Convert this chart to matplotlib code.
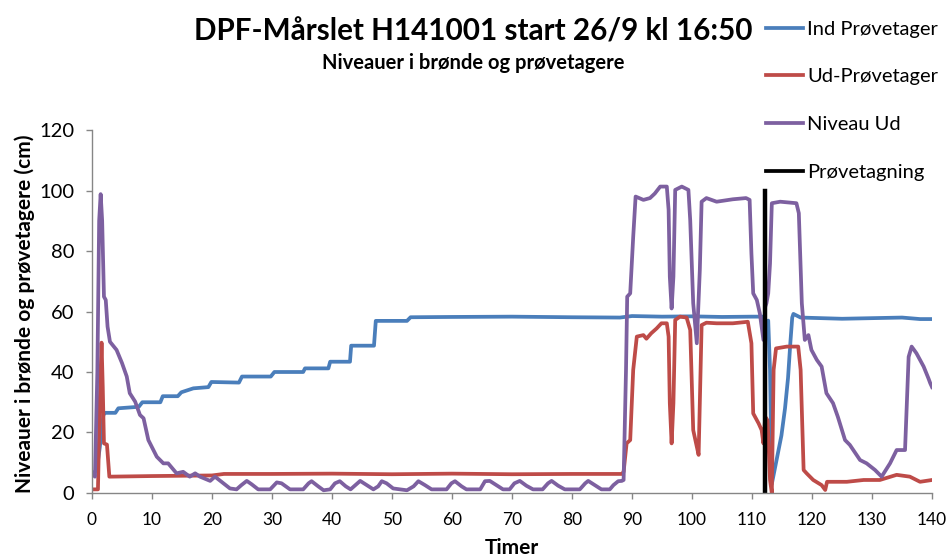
import matplotlib
matplotlib.use("Agg")
import matplotlib.pyplot as plt

plt.rcParams['font.family'] = ['Lato', 'DejaVu Sans']

# Ind Prøvetager (inlet sampler level)
ind_t = [0.2, 0.8, 1.3, 1.9, 2.2, 3.9, 4.4, 7.8, 8.4, 11.4, 11.8, 14.3, 14.9, 16.9,
         19.4, 19.9, 24.5, 25.0, 29.8, 30.4, 35.2, 35.5, 39.4, 39.7, 43.0, 43.2,
         47.0, 47.3, 52.5, 53.1, 60, 70, 80, 88, 90, 95, 100, 105, 110, 111.9,
         112.2, 112.7, 113.0, 113.3, 114.0, 114.9, 115.5, 116.0, 116.4, 116.7,
         116.9, 118.1, 125, 130, 135, 138, 140]
ind_v = [6.5, 7.7, 15, 25.8, 26.5, 26.5, 28, 28.5, 30, 30, 32, 32, 33.3, 34.6,
         35, 36.7, 36.5, 38.5, 38.5, 40, 40, 41.2, 41.2, 43.4, 43.4, 48.7,
         48.7, 56.9, 56.9, 58.1, 58.2, 58.3, 58.1, 58.0, 58.5, 58.3, 58.4, 58.2, 58.3, 58.3,
         54, 57, 40.7, 3, 10, 19, 28, 38, 50, 58,
         59.2, 58, 57.6, 57.8, 58.0, 57.5, 57.5]

# Ud-Prøvetager (outlet sampler level)
ud_t = [0.2, 1.0, 1.3, 1.6, 1.8, 2.0, 2.5, 2.9, 10, 20, 22, 30, 40, 50, 60, 70, 80,
        88.3, 88.6, 89.1, 89.7, 90.2, 90.8, 91.9, 92.4, 93.2, 94.1, 94.9, 95.8,
        96.1, 96.3, 96.6, 96.9, 97.2, 98.0, 99.1, 99.7, 100.2, 100.8, 101.1, 101.3,
        101.6, 102.4, 104.1, 106.8, 109.3, 109.9, 110.2, 111.1, 111.6, 111.9, 112.2,
        112.6, 113.0, 113.3, 113.6, 114.0, 115.8, 117.7, 118.1, 118.6, 119.1, 120.2,
        121.6, 122.2, 122.5, 125.8, 128.6, 131.3, 134.1, 136.3, 138, 140]
ud_v = [1.2, 1.2, 30, 49.7, 35, 16.4, 16, 5.4, 5.6, 5.8, 6.3, 6.3, 6.4, 6.2, 6.4, 6.2, 6.3,
        6.3, 7, 16.4, 17.5, 40.7, 51.7, 52.2, 51, 52.8, 54.4, 56.1, 56.1,
        51.7, 29.7, 16.4, 29.7, 57.2, 58.3, 58, 53.9, 20.8, 15.3, 12.6, 29.7,
        55.5, 56.3, 56.1, 56.1, 56.6, 49.5, 26.3, 23, 20.8, 16.4, 25.2,
        24, 4.3, 0, 40.7, 47.8, 48.4, 48.4, 40.7, 7.6, 6.5, 4.3,
        2.6, 1, 3.7, 3.7, 4.3, 4.3, 6, 5.4, 3.7, 4.3]

# Niveau Ud (outlet well level)
niv_t = [0.2, 0.5, 0.9, 1.2, 1.45, 1.7, 2.0, 2.3, 2.6, 3.0, 4.1, 5.0, 5.8, 6.3, 7.2,
         8.0, 8.6, 9.4, 10.8, 11.9, 12.7, 14.1, 15.2, 16.3, 17.2, 18.0, 19.7, 20.5,
         21.9, 23.0, 24.1, 24.9, 25.8, 26.6, 27.7, 29.7, 30.8, 31.6, 33.0, 35.2,
         36.1, 36.6, 37.7, 38.6, 39.7, 40.5, 41.3, 42.3, 43.1, 43.9, 44.7, 45.8,
         46.9, 47.7, 48.3, 49.1, 50.2, 52.5, 53.6, 54.4, 55.5, 56.6, 59.1, 59.9,
         60.5, 61.6, 62.4, 64.7, 65.5, 66.3, 67.4, 68.5, 69.6, 70.4, 71.3, 72.4,
         73.5, 75.1, 76.0, 76.6, 77.7, 78.8, 81.3, 82.2, 82.7, 83.8, 84.9, 86.3,
         86.9, 87.7, 88.3, 88.6, 89.0, 89.2, 89.7, 90.2, 90.6, 91.9, 93.0, 93.8,
         94.7, 95.8, 96.1, 96.3, 96.6, 96.9, 97.2, 98.3, 99.4, 99.7, 100.2, 100.8,
         101.3, 101.6, 102.4, 104.1, 106.8, 109.0, 109.6, 109.9, 110.2, 110.8,
         111.3, 111.9, 112.2, 112.4, 112.7, 113.0, 113.3, 114.7, 117.4, 117.8,
         118.3, 118.8, 119.4, 119.9, 120.8, 121.6, 122.4, 123.5, 124.3, 125.5,
         126.3, 128.0, 129.1, 130.5, 131.6, 133.0, 134.1, 135.5, 136.1, 136.6,
         137.4, 138.6, 139.4, 139.7, 140]
niv_v = [6, 5.4, 40, 90, 98.8, 90, 64.9, 63.8, 55, 50, 47.3, 43, 38.5, 33, 30.2,
         25.8, 24.7, 17.5, 12, 9.8, 9.8, 6.5, 7, 5.4, 6.5, 5.4, 4, 5.4,
         3.2, 1.5, 1.2, 2.6, 4, 2.9, 1.2, 1.2, 3.5, 3.2, 1.2, 1.2,
         3.2, 3.9, 2.2, 0.9, 1.2, 3.2, 3.9, 2.2, 1.2, 2.6, 4, 2.6,
         1.2, 2.2, 3.9, 3.2, 1.5, 0.9, 2.2, 3.9, 2.6, 1.2, 1.2, 3.2,
         3.9, 2.2, 1.2, 1.2, 3.9, 4, 2.6, 1.2, 1.2, 3.2, 4, 2.4,
         1.2, 1.2, 3.2, 4, 2.4, 1.2, 1.2, 3.2, 4, 2.6, 1.2, 1.2,
         2.6, 3.9, 4, 4.3, 40.7, 64.9, 66, 84.7, 98, 96.9, 97.5, 99,
         101.3, 101.3, 93.6, 71.5, 61, 71.5, 100.2, 101.3, 100.2, 90.2, 62.7, 49.5,
         73.7, 96.3, 97.5, 96.3, 97.1, 97.5, 96.9, 79.2, 66, 63.8,
         59.4, 50.6, 61.6, 62.7, 66, 75.9, 95.8, 96.3, 95.8, 92.5,
         62.7, 50.6, 52.2, 47.3, 44, 41.8, 33, 29.7, 25.2, 17.5,
         15.9, 10.9, 9.8, 7.6, 5.4, 9.8, 14.2, 14.2, 45, 48.4,
         46.2, 41.8, 37.9, 36.3, 35]

# Prøvetagning (sampling moment)
prov_t = [112.2, 112.2]
prov_v = [0, 100]

x_ticks = list(range(0, 141, 10))
y_ticks = list(range(0, 121, 20))

fig = plt.figure(figsize=(9.47, 5.58), dpi=100)
ax = fig.add_axes([0.0971, 0.1165, 0.8871, 0.6505])

lw = 2.7
ax.plot(ind_t, ind_v, color='#4A7EBB', lw=lw, label='Ind Prøvetager', solid_joinstyle='round')
ax.plot(ud_t, ud_v, color='#BE4B48', lw=lw, label='Ud-Prøvetager', solid_joinstyle='round')
ax.plot(niv_t, niv_v, color='#7D60A0', lw=lw, label='Niveau Ud', solid_joinstyle='round')
ax.plot(prov_t, prov_v, color='black', lw=3.2, label='Prøvetagning')

ax.set_xlim(0, 140)
ax.set_ylim(0, 120)
ax.set_xticks(x_ticks)
ax.set_yticks(y_ticks)
for s in ['top', 'right']:
    ax.spines[s].set_visible(False)
for s in ['left', 'bottom']:
    ax.spines[s].set_color('#868686')
    ax.spines[s].set_linewidth(1.0)
ax.tick_params(axis='both', colors='#868686', labelcolor='black',
               length=4.5, width=1.0, direction='out')
ax.tick_params(axis='x', labelsize=12.5, pad=9)
ax.tick_params(axis='y', labelsize=14.5, pad=8)

ax.set_xlabel('Timer', fontsize=15, fontweight='bold')
ax.xaxis.set_label_coords(0.5, -0.125)
ax.set_ylabel('Niveauer i brønde og prøvetagere (cm)', fontsize=15, fontweight='bold')
ax.yaxis.set_label_coords(-0.068, 0.495)

fig.text(0.5, 0.943, 'DPF-Mårslet H141001 start 26/9 kl 16:50', ha='center', va='center',
         fontsize=21.3, fontweight='bold')
fig.text(0.5, 0.887, 'Niveauer i brønde og prøvetagere', ha='center', va='center',
         fontsize=14.5, fontweight='bold')

leg = fig.legend(loc='upper left', bbox_to_anchor=(0.8089, 0.963), frameon=False,
                 fontsize=14.5, handlelength=1.85, handletextpad=0.2, labelspacing=1.52,
                 borderaxespad=0.0, borderpad=0.0)
for h in leg.get_lines():
    h.set_linewidth(2.7)

fig.savefig('out.png', dpi=100)
